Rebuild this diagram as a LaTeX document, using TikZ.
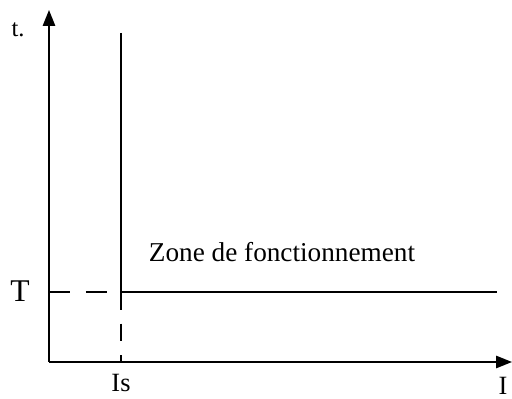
\documentclass[tikz,border=0pt]{standalone}
\usepackage{fontspec}
\setmainfont{Liberation Serif}
\usetikzlibrary{arrows.meta,positioning}

\begin{document}
\begin{tikzpicture}[x=0.02cm,y=-0.02cm,>={Triangle[length=9pt,width=7pt]},line width=0.9pt]
\useasboundingbox (0,0) rectangle (512,399);
\coordinate (o) at (49,362);
\coordinate (ytop) at (49,10);
\coordinate (xend) at (512,362);
\coordinate (itop) at (121,33);
\coordinate (ic) at (121,292);
\coordinate (ib) at (121,362);
\coordinate (ty) at (49,292);
\coordinate (hend) at (497,292);
\draw[->] (o) -- (ytop);
\draw[->] (o) -- (xend);
\draw (itop) -- (ic) -- (hend);
\draw[dash pattern=on 10pt off 8pt] (ic) -- (ib);
\draw[dash pattern=on 12pt off 9pt] (ty) -- (ic);
\node (tlab) at (18,30) {\fontsize{14}{16}\selectfont t.};
\node (Tlab) at (20,291) {\fontsize{18}{20}\selectfont T};
\node (islab) at (121,383) {\fontsize{15}{17}\selectfont Is};
\node[inner sep=0pt] (ilab) at (503,386) {\fontsize{15}{17}\selectfont I};
\node (zone) at (282,252) {\fontsize{15.5}{18}\selectfont Zone de fonctionnement};
\end{tikzpicture}
\end{document}
